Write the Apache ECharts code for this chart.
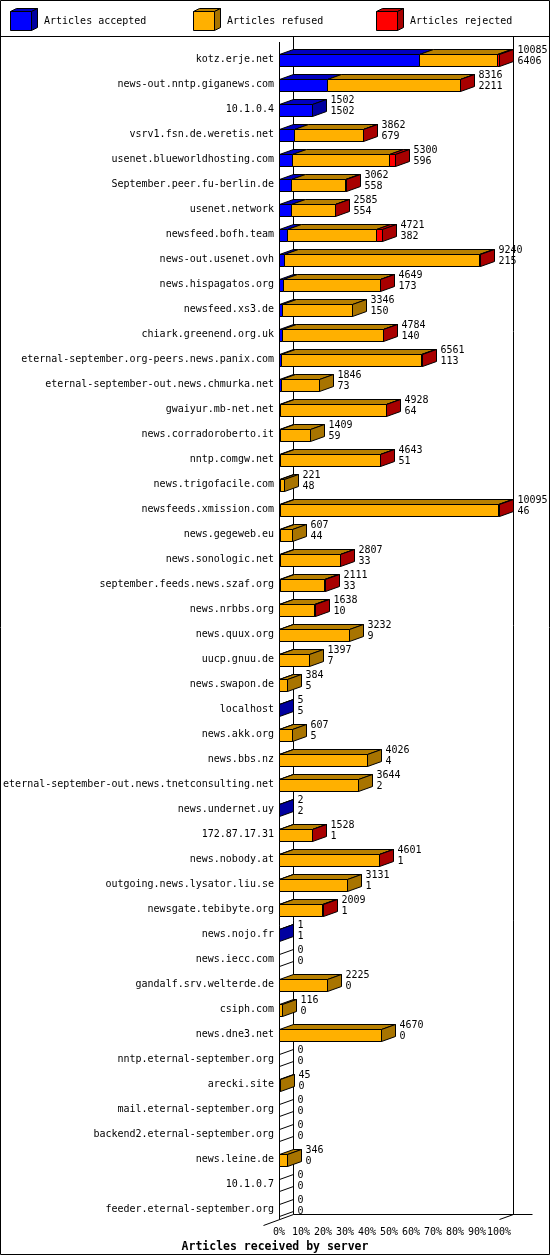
<!DOCTYPE html>
<html><head><meta charset="utf-8">
<script src="https://cdn.jsdelivr.net/npm/echarts@6/dist/echarts.min.js"></script>
<style>html,body{margin:0;padding:0;background:#fff}#c{width:550px;height:1255px}</style>
</head><body><div id="c"></div>
<script>
const servers = ["kotz.erje.net","news-out.nntp.giganews.com","10.1.0.4","vsrv1.fsn.de.weretis.net","usenet.blueworldhosting.com","September.peer.fu-berlin.de","usenet.network","newsfeed.bofh.team","news-out.usenet.ovh","news.hispagatos.org","newsfeed.xs3.de","chiark.greenend.org.uk","eternal-september.org-peers.news.panix.com","eternal-september-out.news.chmurka.net","gwaiyur.mb-net.net","news.corradoroberto.it","nntp.comgw.net","news.trigofacile.com","newsfeeds.xmission.com","news.gegeweb.eu","news.sonologic.net","september.feeds.news.szaf.org","news.nrbbs.org","news.quux.org","uucp.gnuu.de","news.swapon.de","localhost","news.akk.org","news.bbs.nz","eternal-september-out.news.tnetconsulting.net","news.undernet.uy","172.87.17.31","news.nobody.at","outgoing.news.lysator.liu.se","newsgate.tebibyte.org","news.nojo.fr","news.iecc.com","gandalf.srv.welterde.de","csiph.com","news.dne3.net","nntp.eternal-september.org","arecki.site","mail.eternal-september.org","backend2.eternal-september.org","news.leine.de","10.1.0.7","feeder.eternal-september.org"];
const totals = [10085,8316,1502,3862,5300,3062,2585,4721,9240,4649,3346,4784,6561,1846,4928,1409,4643,221,10095,607,2807,2111,1638,3232,1397,384,5,607,4026,3644,2,1528,4601,3131,2009,1,0,2225,116,4670,0,45,0,0,346,0,0];
const accepted = [6406,2211,1502,679,596,558,554,382,215,173,150,140,113,73,64,59,51,48,46,44,33,33,10,9,7,5,5,5,4,2,2,1,1,1,1,1,0,0,0,0,0,0,0,0,0,0,0];
const rejected = [60,30,0,30,270,30,30,280,40,30,0,30,30,0,30,0,25,0,30,0,25,25,20,0,0,0,0,0,0,0,0,20,25,0,20,0,0,0,0,0,0,0,0,0,0,0,0];
const seriesNames = ["Articles accepted","Articles refused","Articles rejected"];
const axisTitle = "Articles received by server";
const tickInterval = 10; // percent

const COLORS = [
  {front:'#0000FF', top:'#0000C0', side:'#0000A0'},
  {front:'#FFB000', top:'#B88000', side:'#A87400'},
  {front:'#FF0000', top:'#C00000', side:'#A80000'}
];
const FONT = '"DejaVu Sans Mono", "Liberation Mono", monospace';
const DX = 14, DY = 5, H = 12;
const maxTotal = Math.max(...totals);

const rows = servers.map((s, i) => {
  const refused = totals[i] - accepted[i] - rejected[i];
  return [i, accepted[i], refused, rejected[i], totals[i]];
});

function px(v){ return Math.round(v) + 0.5; }

function renderItem(params, api) {
  const i = api.value(0);
  const vals = [api.value(1), api.value(2), api.value(3)];
  const tot = api.value(4);
  const base = api.coord([0, i]);
  const yc = base[1];
  const yt = px(yc - H/2), yb = px(yc + H/2);
  const children = [];
  let cum = 0, last = null;
  vals.forEach((v, k) => {
    if (v <= 0) return;
    const xa = px(api.coord([cum / maxTotal * 100, i])[0]);
    cum += v;
    const xb = px(api.coord([cum / maxTotal * 100, i])[0]);
    children.push({type:'polygon', shape:{points:[[xa,yt],[xb,yt],[xb+DX,yt-DY],[xa+DX,yt-DY]]},
      style:{fill:COLORS[k].top, stroke:'#000', lineWidth:1}});
    children.push({type:'rect', shape:{x:xa, y:yt, width:xb-xa, height:yb-yt},
      style:{fill:COLORS[k].front, stroke:'#000', lineWidth:1}});
    last = k;
  });
  const xe = px(api.coord([cum / maxTotal * 100, i])[0]);
  children.push({type:'polygon', shape:{points:[[xe,yt],[xe+DX,yt-DY],[xe+DX,yb-DY],[xe,yb]]},
    style:{fill: last === null ? 'rgba(0,0,0,0)' : COLORS[last].side, stroke:'#000', lineWidth:1}});
  const lx = xe + DX + 4;
  children.push({type:'text', x:lx, y:yc - 9.5, style:{text:String(tot), fill:'#000', font:'10px ' + FONT, align:'left', verticalAlign:'middle'}});
  children.push({type:'text', x:lx, y:yc + 1.5, style:{text:String(api.value(1)), fill:'#000', font:'10px ' + FONT, align:'left', verticalAlign:'middle'}});
  return {type:'group', children};
}

const chart = echarts.init(document.getElementById('c'), null, {renderer:'canvas'});
const GRID = {left:279, top:47, width:220, height:1175};
chart.setOption({
  animation:false,
  backgroundColor:'#fff',
  title:{text:axisTitle, left:'center', top:1236,
    textStyle:{fontFamily:FONT, fontWeight:'bold', fontSize:11.5, color:'#000', lineHeight:12}},
  grid:GRID,
  xAxis:{type:'value', min:0, max:100, interval:tickInterval,
    axisLine:{show:false}, axisTick:{show:false}, splitLine:{show:false},
    axisLabel:{formatter:'{value}%', fontFamily:FONT, fontSize:10, color:'#000', margin:5}},
  yAxis:{type:'category', inverse:true, data:servers,
    axisLine:{show:false}, axisTick:{show:false}, splitLine:{show:false},
    axisLabel:{fontFamily:FONT, fontSize:10, color:'#000', margin:5, interval:0}},
  series:[{type:'custom', name:'bars', renderItem, clip:false,
    encode:{x:4, y:0}, data:rows}]
});

// frame & legend via graphic, positioned from the grid's own coordinate system
const p00 = chart.convertToPixel({gridIndex:0}, [0, 0]);
const p100 = chart.convertToPixel({gridIndex:0}, [100, 0]);
const x0 = px(p00[0]), x1 = px(p100[0]);
const yFloor = px(GRID.top + GRID.height - 3);
const g = [];
const L = (a,b,c,d) => g.push({type:'line', shape:{x1:a,y1:b,x2:c,y2:d}, style:{stroke:'#000', lineWidth:1}, z:1});
g.push({type:'rect', shape:{x:0.5,y:0.5,width:549,height:1254}, style:{fill:'none', stroke:'#000', lineWidth:1}});
L(0, 36.5, 550, 36.5);
L(x0+DX, 37, x0+DX, yFloor-DY);
L(x1+DX, 37, x1+DX, yFloor-DY);
L(x0+DX, yFloor-DY, x1+DX+19, yFloor-DY);
L(x0, 42, x0, yFloor);
L(x0-16, yFloor+6, x0+DX, yFloor-DY);
L(x1, yFloor, x1+DX, yFloor-DY);
// legend
const legX = [10, 193, 376];
seriesNames.forEach((n, k) => {
  const x = legX[k] + 0.5, y = 11.5, w = 21, h = 19, d = 6, dy = 3;
  g.push({type:'polygon', shape:{points:[[x,y],[x+w,y],[x+w+d,y-dy],[x+d,y-dy]]}, style:{fill:COLORS[k].top, stroke:'#000', lineWidth:1}});
  g.push({type:'polygon', shape:{points:[[x+w,y],[x+w+d,y-dy],[x+w+d,y+h-dy],[x+w,y+h]]}, style:{fill:COLORS[k].side, stroke:'#000', lineWidth:1}});
  g.push({type:'rect', shape:{x:x, y:y, width:w, height:h}, style:{fill:COLORS[k].front, stroke:'#000', lineWidth:1}});
  g.push({type:'text', x:legX[k] + 34, y:21, style:{text:n, fill:'#000', font:'10px ' + FONT, align:'left', verticalAlign:'middle'}});
});
chart.setOption({graphic:g});
</script>
</body></html>
